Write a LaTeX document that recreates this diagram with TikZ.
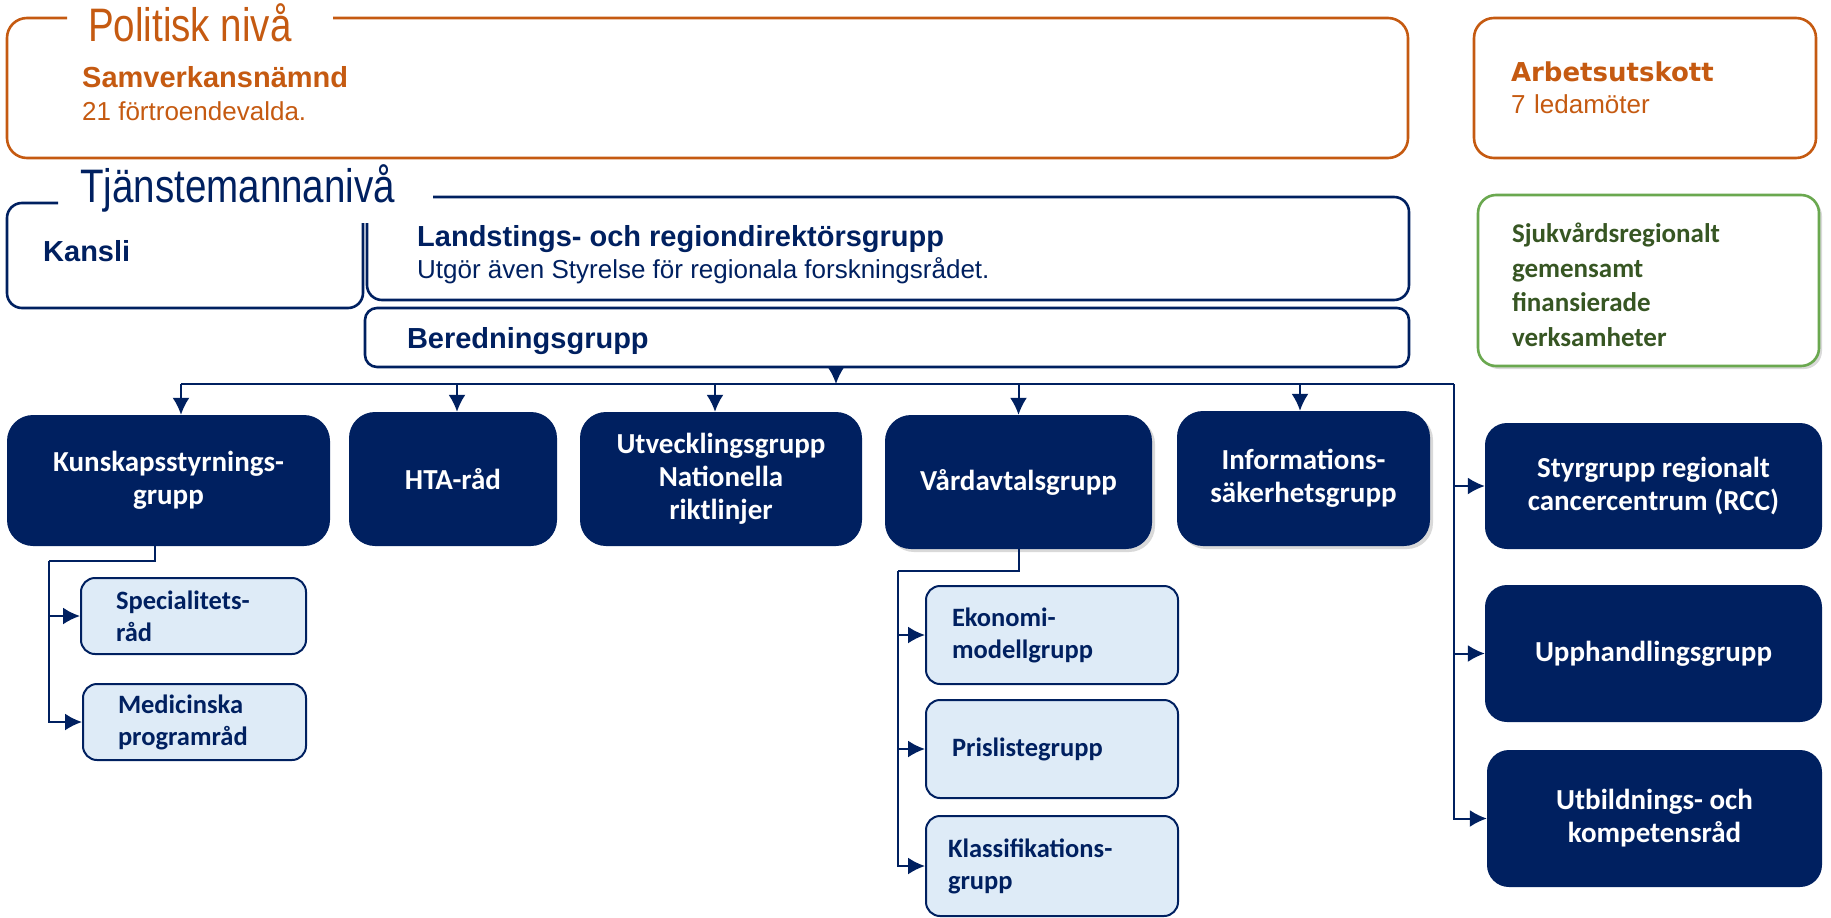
\documentclass[tikz,border=0pt]{standalone}
\usepackage{fontspec}
\setmainfont{Liberation Sans}
\newfontfamily\calibri{Carlito}
\newfontfamily\narrow[FakeStretch=0.82]{Liberation Sans}
\newfontfamily\verd{DejaVu Sans}
\usetikzlibrary{arrows.meta,positioning,shadows}
\newcommand{\fsz}[2]{\fontsize{#1}{#2}\selectfont}
\definecolor{navy}{HTML}{002060}
\definecolor{polorange}{HTML}{C55A11}
\definecolor{lightblue}{HTML}{DEEBF7}
\definecolor{greenline}{HTML}{6AA84F}
\definecolor{darkgreen}{HTML}{375623}

\begin{document}
\begin{tikzpicture}[x=1pt, y=-1pt, >={Latex[length=17pt,width=17pt]},
  darkbox/.style={rectangle, rounded corners=26pt, fill=navy, text=white, align=center, inner sep=0pt, font=\calibri\bfseries\fsz{29}{33}},
  lightbox/.style={rectangle, rounded corners=14pt, draw=navy, line width=2pt, fill=lightblue, text=navy, align=left, font=\calibri\bfseries\fsz{26.5}{32}},
  arr/.style={->, draw=navy, line width=2pt},
  navyline/.style={draw=navy, line width=2pt},
  softshadow/.style={drop shadow={opacity=0.3, shadow xshift=3pt, shadow yshift=-3pt}}]

\useasboundingbox (0,0) rectangle (1831,918);

% politisk niva
\draw[polorange, line width=2.6pt, rounded corners=20pt] (67,18) -- (7,18) -- (7,158) -- (1408,158) -- (1408,18) -- (333,18);
\node[anchor=base west, inner sep=0pt, text=polorange, font=\narrow\fsz{47}{50}] (politisk) at (88,41) {Politisk nivå};
\node[anchor=base west, inner sep=0pt, text=polorange, font=\bfseries\fsz{29}{33}] (samverkan) at (82,87) {Samverkansnämnd};
\node[anchor=base west, inner sep=0pt, text=polorange, font=\fsz{26}{30}] (fortroende) at (82,120) {21 förtroendevalda.};

\node[draw=polorange, line width=2.6pt, rounded corners=20pt, minimum width=342pt, minimum height=140pt, text width=268pt, inner xsep=37pt, align=left, text=polorange, font=\fsz{26}{32}] (utskott) at (1645,88) {{\verd\bfseries Arbetsutskott}\\7 ledamöter};

\node[draw=greenline, line width=2.6pt, rounded corners=18pt, fill=white, softshadow, minimum width=341pt, minimum height=171pt, text width=273pt, inner xsep=34pt, align=left, text=darkgreen, font=\calibri\bfseries\fsz{27}{34.6}] (sjukvard) at (1648.5,280.5) {\rule{0pt}{28pt}Sjukvårdsregionalt\\gemensamt\\finansierade\\verksamheter};

% tjanstemannaniva
\node[anchor=base west, inner sep=0pt, text=navy, font=\narrow\fsz{47}{50}] (tjanst) at (80,202) {Tjänstemannanivå};
\draw[navy, line width=2.6pt, rounded corners=15pt] (58,203) -- (7,203) -- (7,308) -- (363,308) -- (363,223);
\node[anchor=base west, inner sep=0pt, text=navy, font=\bfseries\fsz{29}{33}] (kansli) at (43,261) {Kansli};
\draw[navy, line width=2.6pt, rounded corners=15pt] (433,197) -- (1409,197) -- (1409,300) -- (367,300) -- (367,223);
\node[anchor=base west, inner sep=0pt, text=navy, font=\bfseries\fsz{29}{33}] (direktor) at (417,246) {Landstings- och regiondirektörsgrupp};
\node[anchor=base west, inner sep=0pt, text=navy, font=\fsz{26}{30}] (styrelse) at (417,278) {Utgör även Styrelse för regionala forskningsrådet.};
\node[draw=navy, line width=2.6pt, rounded corners=12pt, minimum width=1044pt, minimum height=59pt, text width=960pt, inner xsep=42pt, text depth=0pt, align=left, text=navy, font=\bfseries\fsz{29}{33}] (bered) at (887,337.5) {Beredningsgrupp};

% grupper
\node[darkbox, minimum width=323pt, minimum height=131pt] (kunskap) at (168.5,480.5) {Kunskapsstyrnings-\\grupp};
\node[darkbox, minimum width=208pt, minimum height=134pt] (hta) at (453,479) {HTA-råd};
\node[darkbox, minimum width=282pt, minimum height=134pt] (utveckling) at (721,479) {Utvecklingsgrupp\\Nationella\\riktlinjer};
\node[darkbox, softshadow, minimum width=267pt, minimum height=134pt] (vardavtal) at (1018.5,482) {Vårdavtalsgrupp};
\node[darkbox, softshadow, minimum width=253pt, minimum height=135pt] (infosak) at (1303.5,478.5) {Informations-\\säkerhetsgrupp};
\node[darkbox, rounded corners=22pt, minimum width=337pt, minimum height=126pt] (styrgrupp) at (1653.5,486) {Styrgrupp regionalt\\cancercentrum (RCC)};
\node[darkbox, rounded corners=22pt, minimum width=337pt, minimum height=137pt] (upphandling) at (1653.5,653.5) {Upphandlingsgrupp};
\node[darkbox, rounded corners=22pt, minimum width=335pt, minimum height=137pt] (utbildning) at (1654.5,818.5) {Utbildnings- och\\kompetensråd};

\node[lightbox, minimum width=225pt, minimum height=76pt, text width=155pt, inner xsep=35pt] (spec) at (193.5,616) {Specialitets-\\råd};
\node[lightbox, minimum width=223pt, minimum height=76pt, text width=153pt, inner xsep=35pt] (medic) at (194.5,722) {Medicinska\\programråd};
\node[lightbox, minimum width=252pt, minimum height=98pt, text width=200pt, inner xsep=26pt] (ekonomi) at (1052,635) {Ekonomi-\\modellgrupp};
\node[lightbox, minimum width=252pt, minimum height=98pt, text width=200pt, inner xsep=26pt] (prislista) at (1052,749) {Prislistegrupp};
\node[lightbox, minimum width=252pt, minimum height=100pt, text width=208pt, inner xsep=22pt] (klass) at (1052,866) {Klassifikations-\\grupp};

% forbindelser
\coordinate (busL) at (181,384);
\coordinate (busR) at (1454,384);
\draw[navyline] (busL) -- (busR);
\draw[arr] ([xshift=-51pt]bered.south) -- ([xshift=-51pt]bered.south |- busL);
\draw[arr] ([xshift=12.5pt]kunskap.north |- busL) -- ([xshift=12.5pt]kunskap.north);
\draw[arr] ([xshift=4pt]hta.north |- busL) -- ([xshift=4pt]hta.north);
\draw[arr] ([xshift=-6pt]utveckling.north |- busL) -- ([xshift=-6pt]utveckling.north);
\draw[arr] (vardavtal.north |- busL) -- (vardavtal.north);
\draw[arr] ([xshift=-3.5pt]infosak.north |- busL) -- ([xshift=-3.5pt]infosak.north);
\draw[arr] (busR) |- (styrgrupp.west);
\draw[arr] (busR) |- (upphandling.west);
\draw[arr] (busR) |- (utbildning.west);

\coordinate (kfork) at (49,561);
\draw[navyline] ([xshift=-14pt]kunskap.south) |- (kfork);
\draw[arr] (kfork) |- (spec.west);
\draw[arr] (kfork) |- (medic.west);

\coordinate (vfork) at (898,571);
\draw[navyline] (vardavtal.south) |- (vfork);
\draw[arr] (vfork) |- (ekonomi.west);
\draw[arr] (vfork) |- (prislista.west);
\draw[arr] (vfork) |- (klass.west);

\end{tikzpicture}
\end{document}
